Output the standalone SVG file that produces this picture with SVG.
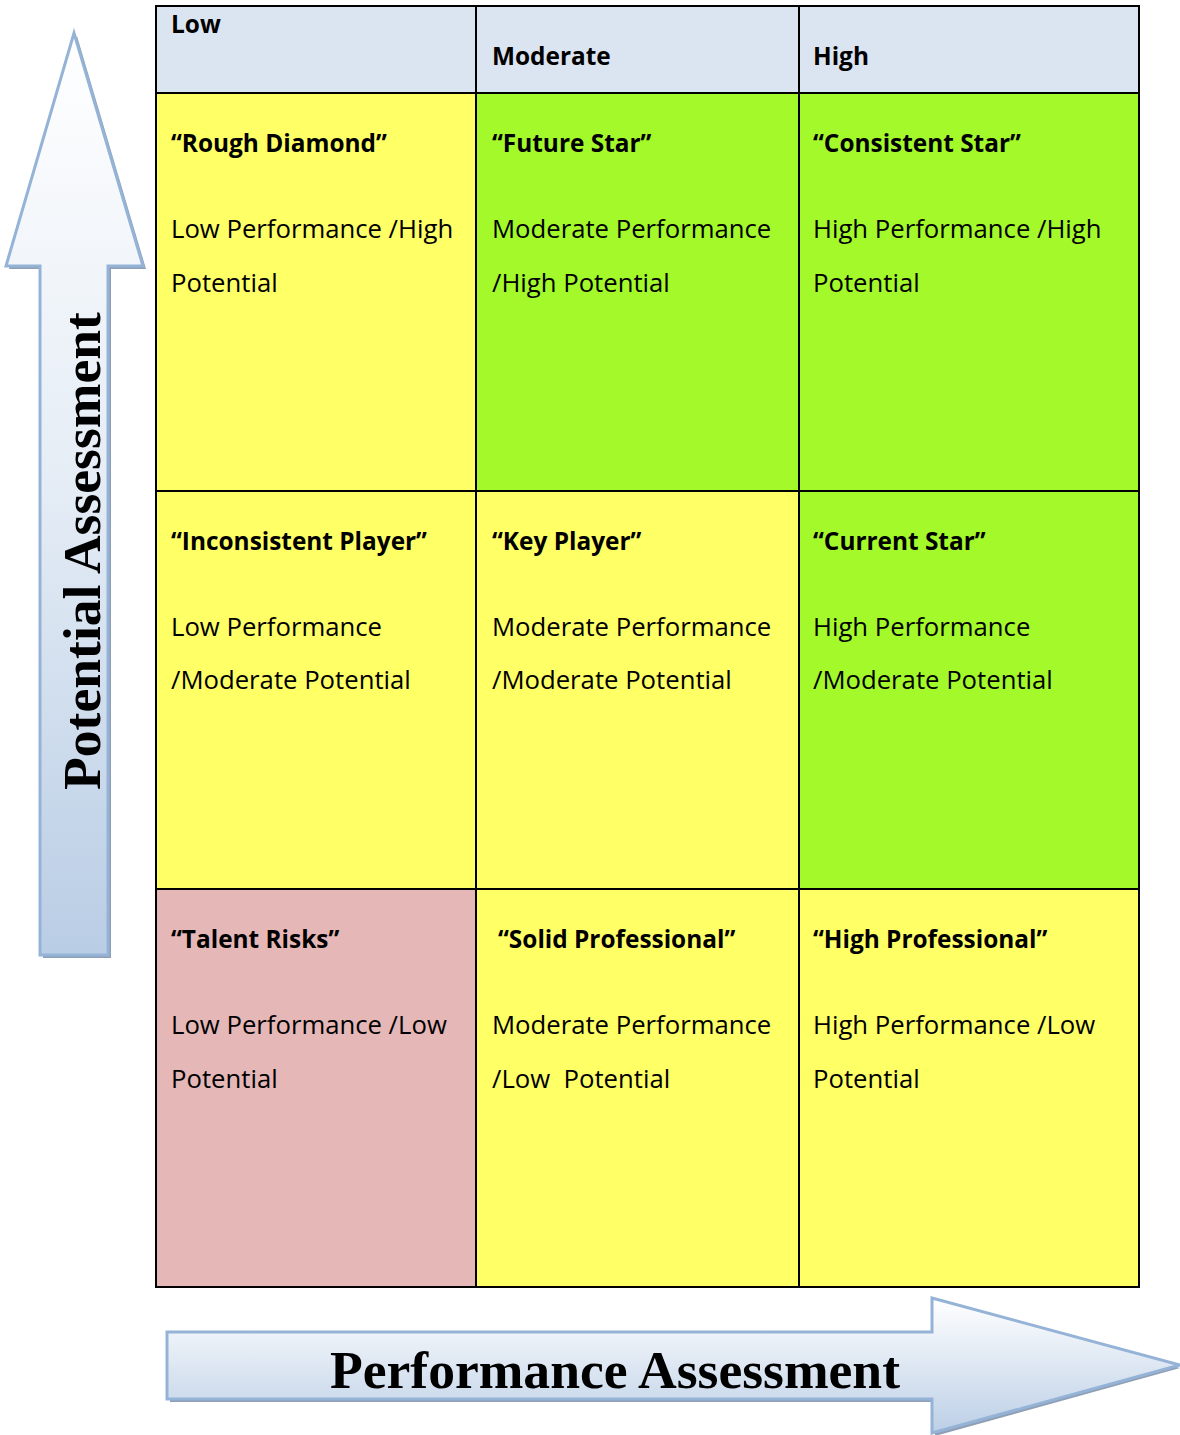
<svg xmlns="http://www.w3.org/2000/svg" width="1180" height="1435" viewBox="0 0 1180 1435">
<style>
.cell{stroke:#000;stroke-width:2}
.hdr{fill:#dbe5f1}
.yel{fill:#ffff66}
.grn{fill:#a3f92a}
.pnk{fill:#e5b7b7}
.t{font-family:"Open Sans","Liberation Sans",sans-serif;font-size:25.7px;fill:#000}
.b{font-weight:bold;font-size:24.4px}
.ax{font-family:"Liberation Serif","Times New Roman",serif;font-weight:bold;font-size:53.6px;fill:#000}
.arrow{stroke:#95b3d7;stroke-width:3}
.shadow{fill:#8fa0b6}
</style>
<defs>
<linearGradient id="gv" x1="0" y1="33" x2="0" y2="955" gradientUnits="userSpaceOnUse">
<stop offset="0" stop-color="#ffffff"/>
<stop offset="0.5" stop-color="#e4ecf5"/>
<stop offset="1" stop-color="#b9cde5"/>
</linearGradient>
<linearGradient id="gh" x1="0" y1="1298" x2="0" y2="1433" gradientUnits="userSpaceOnUse">
<stop offset="0" stop-color="#ffffff"/>
<stop offset="1" stop-color="#bccfe6"/>
</linearGradient>
</defs>
<g id="potential-arrow">
<path class="shadow" d="M77,36 L146,269 L111,269 L111,958 L43,958 L43,269 L9,269 Z"/>
<path class="arrow" fill="url(#gv)" d="M74,33 L143,266 L108,266 L108,955 L40,955 L40,266 L6,266 Z"/>
<text class="ax" transform="translate(100,551) rotate(-90)" text-anchor="middle">Potential Assessment</text>
</g>
<g id="performance-arrow">
<path class="shadow" d="M170,1335 L935,1335 L935,1301 L1180,1368 L935,1436 L935,1402 L170,1402 Z"/>
<path class="arrow" fill="url(#gh)" d="M167,1332 L932,1332 L932,1298 L1180,1365 L932,1433 L932,1399 L167,1399 Z"/>
<text class="ax" x="615" y="1388" text-anchor="middle">Performance Assessment</text>
</g>
<g id="header">
<rect class="cell hdr" x="156" y="6" width="320" height="87"/>
<rect class="cell hdr" x="476" y="6" width="323" height="87"/>
<rect class="cell hdr" x="799" y="6" width="340" height="87"/>
<text class="t b" x="171" y="33">Low</text>
<text class="t b" x="492" y="65">Moderate</text>
<text class="t b" x="813" y="65">High</text>
</g>
<g id="rough-diamond">
<rect class="cell yel" x="156" y="93" width="320" height="398"/>
<text class="t b" x="171" y="152">“Rough Diamond”</text>
<text class="t" x="171" y="238">Low Performance /High</text>
<text class="t" x="171" y="292">Potential</text>
</g>
<g id="future-star">
<rect class="cell grn" x="476" y="93" width="323" height="398"/>
<text class="t b" x="492" y="152">“Future Star”</text>
<text class="t" x="492" y="238">Moderate Performance</text>
<text class="t" x="492" y="292">/High Potential</text>
</g>
<g id="consistent-star">
<rect class="cell grn" x="799" y="93" width="340" height="398"/>
<text class="t b" x="813" y="152">“Consistent Star”</text>
<text class="t" x="813" y="238">High Performance /High</text>
<text class="t" x="813" y="292">Potential</text>
</g>
<g id="inconsistent-player">
<rect class="cell yel" x="156" y="491" width="320" height="398"/>
<text class="t b" x="171" y="550">“Inconsistent Player”</text>
<text class="t" x="171" y="636">Low Performance</text>
<text class="t" x="171" y="689">/Moderate Potential</text>
</g>
<g id="key-player">
<rect class="cell yel" x="476" y="491" width="323" height="398"/>
<text class="t b" x="492" y="550">“Key Player”</text>
<text class="t" x="492" y="636">Moderate Performance</text>
<text class="t" x="492" y="689">/Moderate Potential</text>
</g>
<g id="current-star">
<rect class="cell grn" x="799" y="491" width="340" height="398"/>
<text class="t b" x="813" y="550">“Current Star”</text>
<text class="t" x="813" y="636">High Performance</text>
<text class="t" x="813" y="689">/Moderate Potential</text>
</g>
<g id="talent-risks">
<rect class="cell pnk" x="156" y="889" width="320" height="398"/>
<text class="t b" x="171" y="948">“Talent Risks”</text>
<text class="t" x="171" y="1034">Low Performance /Low</text>
<text class="t" x="171" y="1088">Potential</text>
</g>
<g id="solid-professional">
<rect class="cell yel" x="476" y="889" width="323" height="398"/>
<text class="t b" x="498" y="948">“Solid Professional”</text>
<text class="t" x="492" y="1034">Moderate Performance</text>
<text class="t" x="492" y="1088" xml:space="preserve">/Low  Potential</text>
</g>
<g id="high-professional">
<rect class="cell yel" x="799" y="889" width="340" height="398"/>
<text class="t b" x="813" y="948">“High Professional”</text>
<text class="t" x="813" y="1034">High Performance /Low</text>
<text class="t" x="813" y="1088">Potential</text>
</g>
</svg>
